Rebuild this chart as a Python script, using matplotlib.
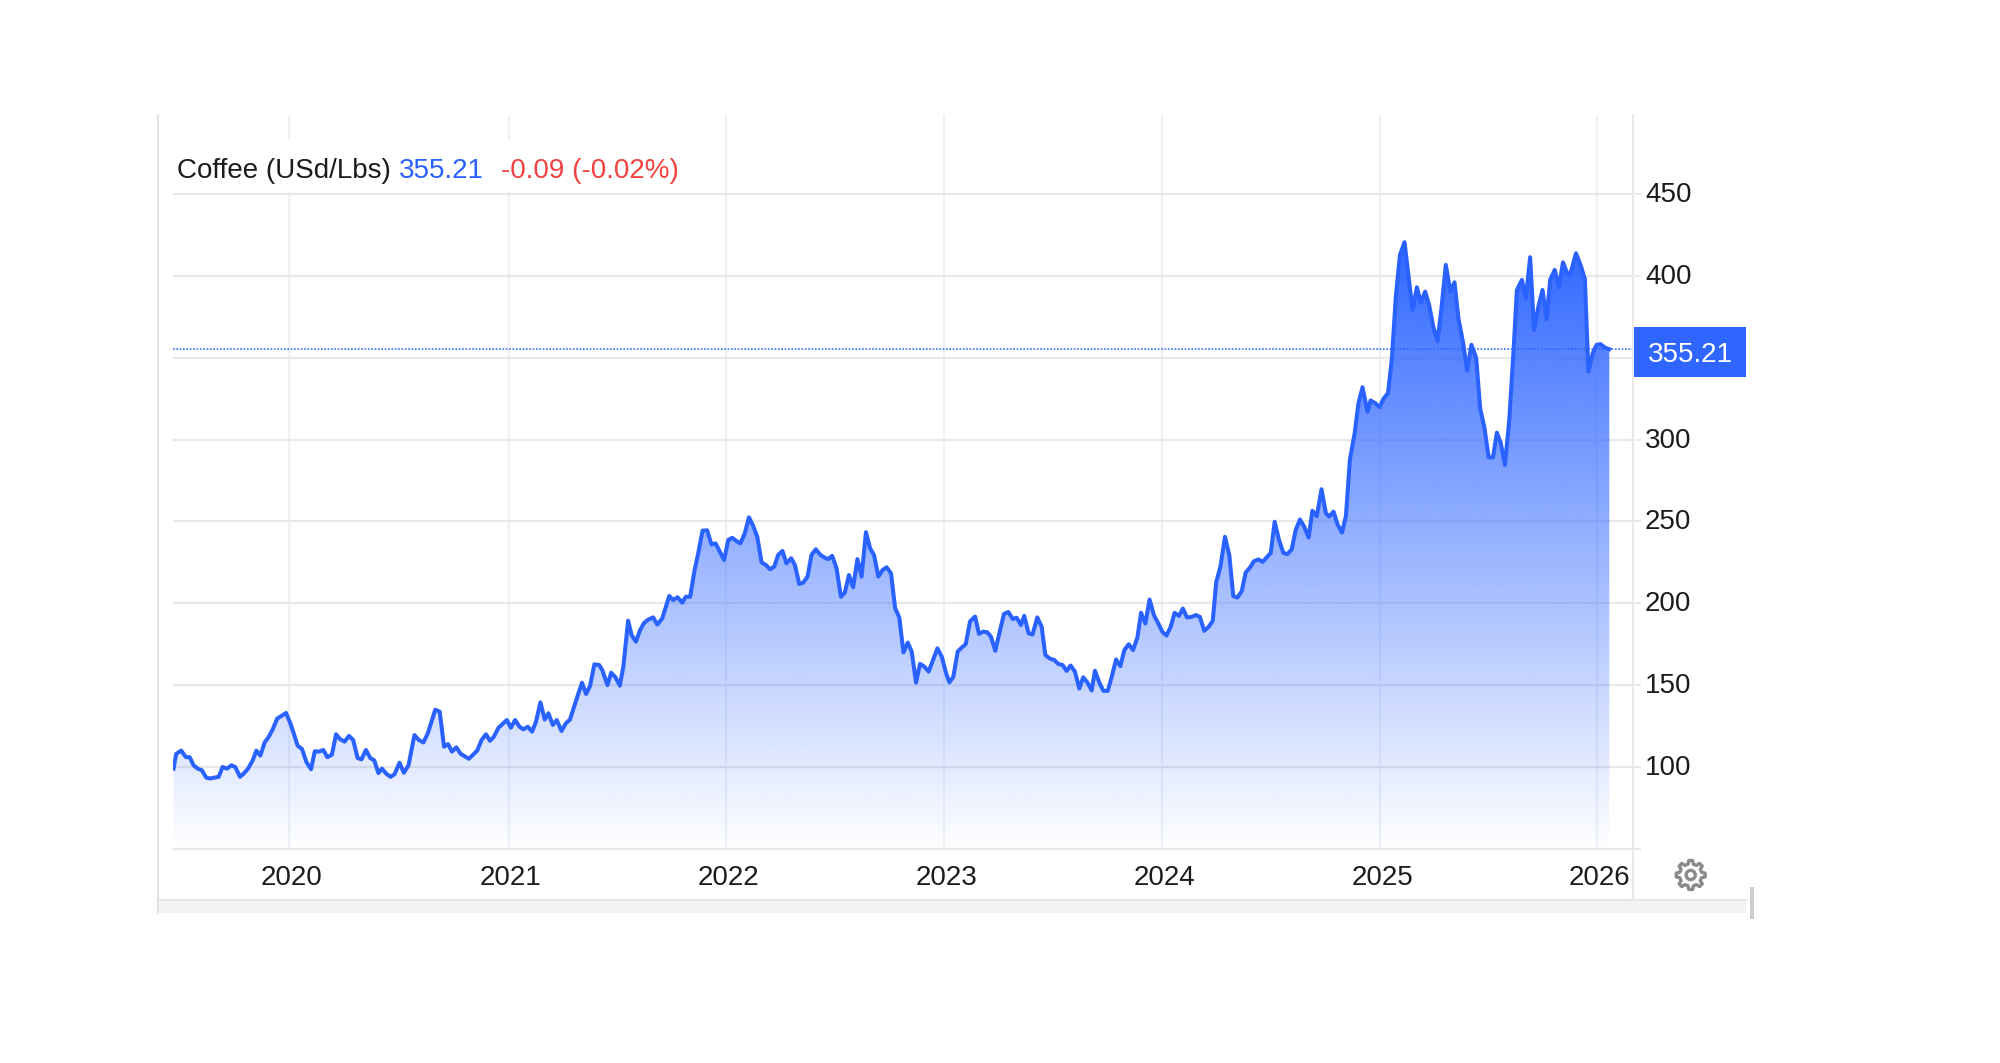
import numpy as np
import matplotlib
matplotlib.use("Agg")
import matplotlib.pyplot as plt
from matplotlib.patches import Rectangle, Polygon, Circle
from matplotlib.lines import Line2D
from matplotlib.transforms import ScaledTranslation

plt.rcParams['font.family'] = ['Liberation Sans', 'DejaVu Sans']

SERIES_NAME = "Coffee (USd/Lbs)"
LAST_PRICE = 355.21
CHANGE_TEXT = "-0.09 (-0.02%)"

years = [
 2019.469,2019.481,2019.504,2019.526,2019.543,2019.561,2019.580,2019.599,2019.619,2019.637,2019.676,2019.694,2019.714,2019.734,2019.752,2019.774,2019.791,2019.811,2019.832,2019.849,2019.867,2019.887,2019.906,2019.926,2019.944,2019.985,
 2020.005,2020.020,2020.038,2020.058,2020.078,2020.099,2020.116,2020.135,2020.155,2020.173,2020.194,2020.213,2020.231,2020.252,2020.272,2020.291,2020.311,2020.329,2020.349,2020.369,2020.387,2020.406,2020.422,2020.441,2020.461,2020.479,2020.502,2020.522,2020.543,
 2020.570,2020.590,2020.611,2020.631,2020.665,2020.685,2020.705,2020.723,2020.741,2020.761,2020.781,2020.818,2020.856,2020.876,2020.896,2020.914,2020.932,2020.953,2020.991,
 2021.009,2021.029,2021.049,2021.067,2021.087,2021.107,2021.125,2021.145,2021.165,2021.182,2021.202,2021.220,2021.242,2021.262,2021.281,2021.300,2021.336,2021.355,2021.373,2021.393,2021.415,2021.430,2021.453,2021.470,2021.490,2021.510,2021.526,2021.548,2021.564,2021.584,
 2021.602,2021.621,2021.640,2021.663,2021.682,2021.705,2021.737,2021.755,2021.775,2021.797,2021.813,2021.833,2021.853,2021.870,2021.890,2021.911,2021.931,2021.950,2021.969,2021.989,
 2022.008,2022.026,2022.046,2022.064,2022.084,2022.103,2022.122,2022.141,2022.161,2022.181,2022.200,2022.219,2022.237,2022.257,2022.275,2022.297,2022.314,2022.334,2022.352,2022.372,2022.390,2022.410,2022.431,2022.451,2022.467,2022.485,2022.505,2022.525,2022.543,2022.562,2022.581,2022.601,2022.620,2022.640,
 2022.659,2022.677,2022.697,2022.717,2022.735,2022.755,2022.774,2022.793,2022.812,2022.832,2022.850,2022.870,2022.888,2022.908,2022.928,2022.968,2022.988,
 2023.008,2023.023,2023.041,2023.061,2023.080,2023.098,2023.118,2023.141,2023.159,2023.179,2023.197,2023.214,2023.234,2023.256,2023.274,2023.294,2023.314,2023.332,2023.352,2023.367,2023.387,2023.405,2023.427,2023.447,2023.464,2023.485,2023.505,2023.523,2023.543,2023.562,2023.580,2023.600,2023.620,2023.638,2023.658,2023.677,
 2023.692,2023.712,2023.731,2023.751,2023.769,2023.789,2023.809,2023.827,2023.847,2023.867,2023.887,2023.904,2023.924,2023.943,2023.963,2023.982,
 2024.002,2024.021,2024.041,2024.058,2024.078,2024.096,2024.115,2024.136,2024.156,2024.174,2024.194,2024.214,2024.233,2024.249,2024.268,2024.289,2024.309,2024.327,2024.346,2024.366,2024.384,2024.404,2024.422,2024.442,2024.462,2024.480,2024.499,2024.517,2024.537,2024.557,2024.575,2024.595,2024.614,2024.633,2024.653,2024.673,2024.690,2024.710,2024.732,2024.752,2024.767,
 2024.787,2024.806,2024.826,2024.844,2024.862,2024.884,2024.901,2024.920,2024.943,2024.957,2024.979,2024.998,
 2025.018,2025.037,2025.055,2025.073,2025.092,2025.113,2025.130,2025.150,2025.170,2025.188,2025.208,2025.226,2025.246,2025.265,2025.283,2025.303,2025.324,2025.343,2025.361,2025.383,2025.401,2025.421,
 2025.443,2025.461,2025.481,2025.500,2025.520,2025.538,2025.556,2025.575,2025.595,2025.614,2025.630,2025.653,2025.671,2025.691,2025.709,2025.729,2025.748,2025.767,2025.783,2025.804,2025.824,2025.842,2025.862,2025.875,2025.902,2025.923,2025.943,2025.959,2025.979,2025.997,
 2026.015,2026.035,2026.055]

prices = [
 99,108,110,106,106,101,99,98,93.5,93,94,100,99,101,100,94,96,99,104,110,107,115,118.5,123.6,129.5,133,
 126.7,120.6,113,111,103,98.6,109.6,109.4,110.4,106,107.5,120,117,115.5,119,116.5,105.5,104.7,110.4,105.5,104,96.3,99,96,94,95.5,102.6,96.5,101,
 119.5,116.5,115,120.6,135,133.8,112.4,114,109.4,112,108,105,110,116.5,120,116,118.5,124,128.7,
 124,128.7,124.6,123,124.6,121.6,127.7,139.5,129,132.8,125.7,128.7,122,126.7,129,136.9,151.5,144.6,149.5,162.7,162.3,159,150,157.6,154.8,149.7,161.3,189.4,180.6,176.6,
 183.3,188,190,191.4,187,190.8,204.5,202,203.7,200.4,204,204,220,230.5,244.4,244.6,236,236.6,231.6,226.5,
 238.7,240,238,236.6,242.8,252.5,247.4,240.7,225,223.4,220.8,222.4,229.5,232,224.4,227.5,223.4,211.8,212.6,216.3,229.5,233,229.5,227.9,227,229,221.4,204,206.5,217.3,209.8,227,216.3,243.4,
 233.6,229.5,216.3,220.4,222,218.3,197,191.4,170,176,170.5,151.5,163,161.3,158.3,172.5,167.4,
 157.2,151.7,155,170.5,173,175,189,191.9,181.3,182.7,182.3,179.6,171,183.7,193.5,194.7,190.4,191.2,186.8,192.3,181.7,180.9,191.4,185.7,168.4,166.2,165.4,163,162.3,158.7,162,158.3,147.9,154.8,151.5,146.7,
 158.8,151.6,146.5,146.5,155,165.7,161.6,171.4,175,171.4,179,194.2,187.7,202.3,192.8,188,
 182.6,180.3,186,194.2,192.3,196.8,191.3,191.7,192.8,191.7,183.2,185.6,189.3,213,222.3,240.6,229.4,204.4,203.5,207.4,218.8,221.9,225.7,226.8,225.3,228,230.8,249.8,238.6,230.8,230,232.9,245,251.2,246.7,240.2,256.5,253.2,269.7,255,253,
 256,248,243.2,253.4,287.6,303.9,322,332,317,323.9,322.2,319.8,
 325.3,328.3,349.7,387.4,412.8,420.6,401.6,379.2,393,383.7,390.4,382.3,368.6,360.3,380.3,406.7,390.4,396.1,374.1,358.9,342.2,357.9,
 349.7,319.2,307,289.2,289.2,304.3,297.8,284.6,312,352.8,391.4,397.6,386.4,411.4,367,381.3,391.4,373.5,397.6,403.7,393.1,408.3,401.6,400.6,413.8,406.7,398,341.6,352.8,357.9,
 358.3,356.2,355.21]

year_labels = ["2020","2021","2022","2023","2024","2025","2026"]
year_ticks = [2020,2021,2022,2023,2024,2025,2026]
year_grid  = [2020,2021.007,2022.0055,2023.005,2024.003,2025.003,2026]
price_ticks = [100,150,200,250,300,350,400,450]
price_labels = ["100","150","200","250","300","","400","450"]

BLUE = "#2962ff"
GRID_H = "#e9e9e9"
GRID_V = "#eef2f8"
TEXT = "#1c1c1c"
FS = 20

W, H = 2000, 1063
fig = plt.figure(figsize=(W/100, H/100), dpi=100, facecolor="white")

# plot area in pixels
L, R, T, B = 173, 1632.7, 115, 849
ax = fig.add_axes([L/W, 1-B/H, (R-L)/W, (B-T)/H], facecolor="white")

PX_PER_YEAR = 218.0
PX_PER_USD = 1.637
xmin = 2020 + (L-289.3)/PX_PER_YEAR
xmax = 2020 + (R-289.3)/PX_PER_YEAR
ymin = 100 - (B-767)/PX_PER_USD
ymax = 100 + (767-T)/PX_PER_USD

x = np.interp(years, [2019]+year_ticks+[2027], [2019]+year_grid+[2027])
y = np.array(prices)

for g in year_grid:
    ax.axvline(g, color=GRID_V, lw=1.6, zorder=1)
for p in price_ticks:
    ax.axhline(p, color=GRID_H, lw=1.6, zorder=1.1)

# gradient fill clipped to the area under the line
peak = max(prices)
n = 512
rgba = np.zeros((n, 1, 4))
rgba[..., :3] = matplotlib.colors.to_rgb(BLUE)
rgba[:, 0, 3] = np.linspace(0.97, 0.0, n)
im = ax.imshow(rgba, extent=[xmin, xmax, ymin, peak], aspect="auto",
               origin="upper", zorder=2, interpolation="bilinear")
poly = Polygon(np.column_stack([np.r_[x[0], x, x[-1]], np.r_[ymin, y, ymin]]),
               closed=True, transform=ax.transData, facecolor="none", edgecolor="none")
ax.add_patch(poly)
im.set_clip_path(poly)

ax.axhline(LAST_PRICE, color=BLUE, lw=1.1, ls=(0, (1.1, 1.1)), zorder=1.5)
ax.plot(x, y, color=BLUE, lw=2.9, solid_joinstyle="round", zorder=3)

ax.set_xlim(xmin, xmax)
ax.set_ylim(ymin, ymax)

for s in ("top", "left"):
    ax.spines[s].set_visible(False)
ax.spines["bottom"].set_color(GRID_H); ax.spines["bottom"].set_linewidth(1.6)
ax.spines["right"].set_color(GRID_H); ax.spines["right"].set_linewidth(1.6)

ax.set_xticks(year_grid)
ax.set_xticklabels(year_labels, fontsize=FS, color=TEXT)
ax.tick_params(axis="x", length=0, pad=11.5)
ax.yaxis.tick_right()
ax.set_yticks([ymin] + price_ticks)
ax.set_yticklabels([""] + price_labels, fontsize=FS, color=TEXT)
ax.tick_params(axis="y", length=5.8, width=1.4, color=GRID_H, pad=3)

# small label nudges, in points
for lab in ax.get_xticklabels():
    lab.set_transform(lab.get_transform() + ScaledTranslation(1.5/72, 0, fig.dpi_scale_trans))
for lab in ax.get_yticklabels():
    lab.set_transform(lab.get_transform() + ScaledTranslation(0, 1.5/72, fig.dpi_scale_trans))

# page chrome, placed in pixel coordinates
ov = fig.add_axes([0, 0, 1, 1], zorder=5)
ov.set_xlim(0, W); ov.set_ylim(H, 0); ov.axis("off")
ov.patch.set_alpha(0)

ov.add_patch(Rectangle((173, 140), 520, 52, fc="white", ec="none"))
hy = 171
ov.text(176.8, hy, SERIES_NAME, fontsize=FS, color=TEXT, va="center", ha="left")
ov.text(399, hy, f"{LAST_PRICE:.2f}", fontsize=FS, color=BLUE, va="center", ha="left")
ov.text(500.7, hy, CHANGE_TEXT, fontsize=FS, color="#f2423f", va="center", ha="left")

ov.add_patch(Rectangle((1634, 327.3), 112, 50, fc="#2f66ff", ec="none"))
ov.text(1690, 354.5, f"{LAST_PRICE:.2f}", fontsize=FS, color="white", va="center", ha="center")

ov.add_patch(Rectangle((158, 899), 1588, 14, fc="#f3f3f3", ec="none"))
ov.add_line(Line2D([158, 1746], [899.5, 899.5], color="#e6e6e6", lw=1.4))
ov.add_line(Line2D([157.5, 157.5], [115, 913], color="#e2e2e2", lw=1.4))
ov.add_line(Line2D([R, R], [849, 899], color=GRID_H, lw=1.6))
ov.add_patch(Rectangle((1750, 887), 4, 32, fc="#cdcdcd", ec="none"))

# settings gear
cx, cy = 1690.7, 875
teeth = 8
angs, rads = [], []
for i in range(teeth):
    a = 2*np.pi*i/teeth - np.pi/2
    w = np.pi/teeth
    angs += [a-0.62*w, a-0.34*w, a+0.34*w, a+0.62*w]
    rads += [11.2, 14.6, 14.6, 11.2]
angs = np.array(angs); rads = np.array(rads)
ov.add_patch(Polygon(np.column_stack([cx+rads*np.cos(angs), cy+rads*np.sin(angs)]),
                     closed=True, fc="none", ec="#8a8a8a", lw=2.4, joinstyle="round"))
ov.add_patch(Circle((cx, cy), 4.6, fc="none", ec="#8a8a8a", lw=2.4))

fig.savefig("out.png", dpi=100, facecolor="white")
